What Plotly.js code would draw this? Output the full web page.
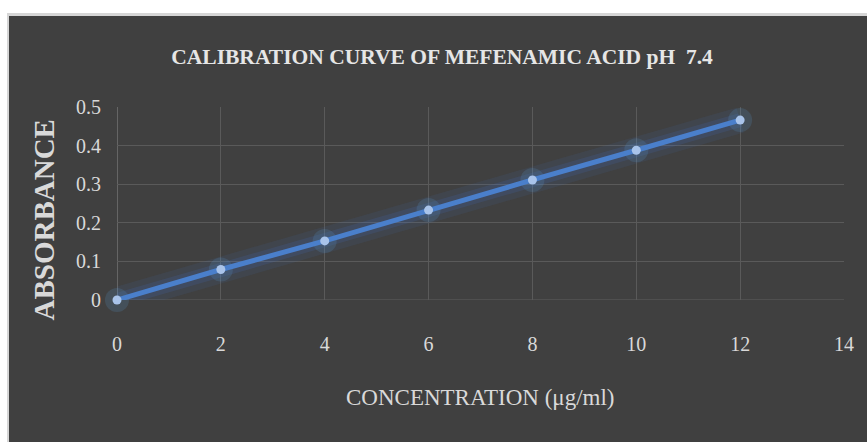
<!DOCTYPE html>
<html>
<head>
<meta charset="utf-8">
<script src="https://cdn.plot.ly/plotly-3.0.1.min.js"></script>
<style>
  html, body { margin: 0; padding: 0; background: #ffffff; width: 867px; height: 442px; overflow: hidden; }
  #frame { position: absolute; left: 7px; top: 13px; width: 860px; height: 429px; background: #d6d6d6; }
  #chart { position: absolute; left: 2px; top: 3px; width: 858px; height: 426px; }
</style>
</head>
<body>
<div id="frame"><div id="chart"></div></div>
<script>
const concentration = [0, 2, 4, 6, 8, 10, 12];
const absorbance = [0.0, 0.079, 0.153, 0.233, 0.311, 0.388, 0.466];
const xTicks = [0, 2, 4, 6, 8, 10, 12, 14];
const yTicks = [0, 0.1, 0.2, 0.3, 0.4, 0.5];
const yTickLabels = ['0', '0.1', '0.2', '0.3', '0.4', '0.5'];

const serif = 'Liberation Serif, Times New Roman, serif';
const textColor = '#d9d9d9';

const traces = [
  { x: concentration, y: absorbance, mode: 'lines', type: 'scatter', cliponaxis: false,
    line: { color: 'rgba(68,114,196,0.10)', width: 26 }, hoverinfo: 'skip', showlegend: false },
  { x: concentration, y: absorbance, mode: 'lines', type: 'scatter', cliponaxis: false,
    line: { color: 'rgba(68,114,196,0.16)', width: 14 }, hoverinfo: 'skip', showlegend: false },
  { x: concentration, y: absorbance, mode: 'markers', type: 'scatter', cliponaxis: false,
    marker: { color: 'rgba(91,155,213,0.18)', size: 24, line: { width: 0 } }, hoverinfo: 'skip', showlegend: false },
  { x: concentration, y: absorbance, mode: 'lines+markers', type: 'scatter', cliponaxis: false,
    line: { color: '#4a7fcb', width: 5 },
    marker: { color: '#a9c4ea', size: 9, line: { width: 0 } }, showlegend: false }
];

const layout = {
  width: 858, height: 426,
  paper_bgcolor: '#404040', plot_bgcolor: '#404040',
  margin: { l: 108, r: 23, t: 91, b: 142, pad: 0 },
  title: { text: 'CALIBRATION CURVE OF MEFENAMIC ACID pH  7.4',
    font: { family: serif, size: 21.5, color: '#e6e6e6', weight: 'bold' },
    x: 0.5047, xref: 'container', xanchor: 'center', y: 0.904, yref: 'container', yanchor: 'middle' },
  xaxis: {
    range: [0, 14], tickvals: xTicks, ticktext: xTicks.map(String),
    showgrid: true, gridcolor: '#5a5a5a', gridwidth: 1,
    zeroline: false, showline: false, ticks: '',
    ticklabelstandoff: 30,
    tickfont: { family: serif, size: 20, color: textColor }, fixedrange: true
  },
  yaxis: {
    range: [0, 0.5], tickvals: yTicks, ticktext: yTickLabels,
    showgrid: true, gridcolor: '#5a5a5a', gridwidth: 1,
    zeroline: false, showline: false, ticks: '',
    ticklabelstandoff: 15,
    tickfont: { family: serif, size: 20, color: textColor }, fixedrange: true
  },
  shapes: [
    { type: 'line', xref: 'x', yref: 'paper', x0: 0, x1: 0, y0: 0, y1: 1,
      line: { color: '#8a8a8a', width: 1 }, layer: 'below' },
    { type: 'line', xref: 'paper', yref: 'y', x0: 0, x1: 1, y0: 0, y1: 0,
      line: { color: '#5e5e5e', width: 1 }, layer: 'below' }
  ],
  annotations: [
    { text: 'ABSORBANCE', xref: 'paper', yref: 'paper', x: -0.1004, y: 0.412,
      xanchor: 'center', yanchor: 'middle', textangle: -90, showarrow: false,
      font: { family: serif, size: 29, color: textColor, weight: 'bold' } },
    { text: 'CONCENTRATION (μg/ml)', xref: 'paper', yref: 'paper', x: 0.5, y: -0.505,
      xanchor: 'center', yanchor: 'middle', showarrow: false,
      font: { family: serif, size: 23, color: textColor } }
  ]
};

Plotly.newPlot('chart', traces, layout, { displayModeBar: false, staticPlot: true });
</script>
</body>
</html>
